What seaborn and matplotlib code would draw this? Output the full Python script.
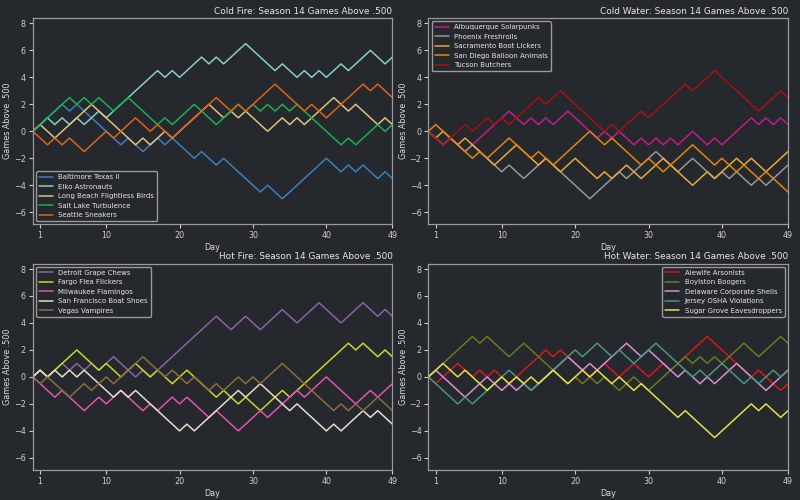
import numpy as np
import pandas as pd
import matplotlib.pyplot as plt
import seaborn as sns

#####################################
# games above .500 after each day (day 0 = season start)
days = list(range(50))

# Cold Fire
baltimore = [0,0.5,1,1.5,2,1.5,2,1.5,1,0.5, 0,-0.5,-1,-0.5,-1,-1.5,-1,-0.5,-1,-0.5,
             -1,-1.5,-2,-1.5,-2,-2.5,-2,-2.5,-3,-3.5, -4,-4.5,-4,-4.5,-5,-4.5,-4,-3.5,-3,-2.5,
             -2,-2.5,-3,-2.5,-3,-2.5,-3,-3.5,-3,-3.5]
elko = [0,0.5,1,0.5,1,0.5,1,0.5,1,1.5, 1,1.5,2,2.5,3,3.5,4,4.5,4,4.5,
        4,4.5,5,5.5,5,5.5,5,5.5,6,6.5, 6,5.5,5,4.5,5,4.5,4,4.5,4,4.5,
        4,4.5,5,4.5,5,5.5,6,5.5,5,5.5]
long_beach = [0,0.5,0,-0.5,0,0.5,1,1.5,2,1.5, 1,0.5,0,-0.5,-1,-0.5,-1,-0.5,0,-0.5,
              0,0.5,1,1.5,2,1.5,1,1.5,1,1.5, 1,0.5,0,0.5,1,0.5,1,0.5,1,1.5,
              2,2.5,2,1.5,2,1.5,1,0.5,1,0.5]
salt_lake = [0,0.5,1,1.5,2,2.5,2,2.5,2,2.5, 2,1.5,2,2.5,2,1.5,1,0.5,1,0.5,
             1,1.5,2,1.5,1,0.5,1,1.5,2,1.5, 2,1.5,2,1.5,2,1.5,2,1.5,1,0.5,
             0,-0.5,-1,-0.5,-1,-0.5,0,0.5,0,0.5]
seattle = [0,-0.5,-1,-0.5,-1,-0.5,-1,-1.5,-1,-0.5, 0,-0.5,0,0.5,1,0.5,0,0.5,0,-0.5,
           0,0.5,1,1.5,2,2.5,2,1.5,2,1.5, 2,2.5,3,3.5,3,2.5,2,1.5,2,1.5,
           1,1.5,2,2.5,3,3.5,3,3.5,3,2.5]

# Cold Water
albuquerque = [0,-0.5,-1,-0.5,-1,-1.5,-1,-0.5,0,0.5, 1,1.5,1,0.5,1,0.5,1,0.5,1,1.5,
               1,0.5,0,-0.5,0,-0.5,0,-0.5,-1,-0.5, -1,-0.5,-1,-0.5,-1,-0.5,0,-0.5,-1,-0.5,
               -1,-0.5,0,0.5,1,0.5,1,0.5,1,0.5]
phoenix = [0,-0.5,-1,-0.5,-1,-1.5,-1,-1.5,-2,-2.5, -3,-2.5,-3,-3.5,-3,-2.5,-2,-2.5,-3,-3.5,
           -4,-4.5,-5,-4.5,-4,-3.5,-3,-3.5,-3,-2.5, -2,-1.5,-2,-2.5,-3,-2.5,-2,-2.5,-3,-3.5,
           -3,-3.5,-3,-3.5,-4,-3.5,-4,-3.5,-3,-2.5]
sacramento = [0,-0.5,0,-0.5,-1,-0.5,-1,-1.5,-2,-2.5, -2,-1.5,-1,-1.5,-2,-2.5,-2,-2.5,-3,-2.5,
              -2,-2.5,-3,-3.5,-3,-3.5,-3,-2.5,-3,-3.5, -3,-2.5,-2,-2.5,-3,-3.5,-4,-3.5,-3,-3.5,
              -3,-2.5,-2,-2.5,-2,-2.5,-3,-2.5,-2,-1.5]
san_diego = [0,0.5,0,-0.5,-1,-1.5,-2,-1.5,-2,-1.5, -1,-0.5,-1,-1.5,-2,-1.5,-2,-2.5,-2,-1.5,
             -1,-0.5,0,-0.5,-1,-0.5,-1,-1.5,-2,-2.5, -2,-2.5,-3,-2.5,-2,-1.5,-1,-1.5,-2,-2.5,
             -2,-2.5,-3,-2.5,-3,-3.5,-3,-3.5,-4,-4.5]
tucson = [0,-0.5,-1,-0.5,0,0.5,0,0.5,1,0.5, 1,0.5,1,1.5,2,2.5,2,2.5,3,2.5,
          2,1.5,1,0.5,0,0.5,0,0.5,1,1.5, 1,1.5,2,2.5,3,3.5,3,3.5,4,4.5,
          4,3.5,3,2.5,2,1.5,2,2.5,3,2.5]

# Hot Fire
detroit = [0,0.5,0,0.5,1,0.5,1,0.5,1,0.5, 1,1.5,1,0.5,0,0.5,0,0.5,1,1.5,
           2,2.5,3,3.5,4,4.5,4,3.5,4,4.5, 4,3.5,4,4.5,5,4.5,4,4.5,5,5.5,
           5,4.5,4,4.5,5,5.5,5,4.5,5,4.5]
fargo = [0,0.5,0,0.5,1,1.5,2,1.5,1,0.5, 1,0.5,0,0.5,1,0.5,0,0.5,0,-0.5,
         0,0.5,0,-0.5,-1,-1.5,-1,-1.5,-2,-1.5, -2,-2.5,-2,-1.5,-1,-1.5,-1,-0.5,0,0.5,
         1,1.5,2,2.5,2,2.5,2,1.5,2,1.5]
milwaukee = [0,-0.5,-1,-1.5,-1,-1.5,-2,-2.5,-2,-1.5, -2,-1.5,-1,-1.5,-2,-2.5,-2,-2.5,-2,-1.5,
             -2,-1.5,-2,-2.5,-3,-2.5,-3,-3.5,-4,-3.5, -3,-2.5,-3,-2.5,-2,-1.5,-1,-1.5,-1,-0.5,
             0,-0.5,-1,-1.5,-2,-1.5,-1,-1.5,-1,-0.5]
san_francisco = [0,0.5,0,0.5,0,0.5,0,0.5,0,-0.5, -1,-1.5,-1,-1.5,-1,-1.5,-2,-2.5,-3,-3.5,
                 -4,-3.5,-4,-3.5,-3,-2.5,-2,-1.5,-1,-1.5, -1,-0.5,-1,-1.5,-2,-2.5,-2,-2.5,-3,-3.5,
                 -4,-3.5,-4,-3.5,-3,-2.5,-3,-2.5,-3,-3.5]
vegas = [0,-0.5,0,-0.5,-1,-1.5,-1,-0.5,-1,-0.5, 0,-0.5,0,0.5,1,1.5,1,0.5,0,0.5,
         0,-0.5,0,-0.5,-1,-0.5,-1,-0.5,0,-0.5, 0,-0.5,0,0.5,1,0.5,0,-0.5,-1,-1.5,
         -2,-2.5,-2,-2.5,-2,-2.5,-2,-1.5,-2,-2.5]

# Hot Water
alewife = [0,-0.5,0,0.5,1,0.5,0,0.5,0,0.5, 0,-0.5,0,0.5,1,1.5,2,1.5,2,1.5,
           1,0.5,0,0.5,1,0.5,0,0.5,1,0.5, 0,0.5,1,0.5,1,1.5,2,2.5,3,2.5,
           2,1.5,1,0.5,0,0.5,0,-0.5,-1,-0.5]
boylston = [0,0.5,1,1.5,2,2.5,3,2.5,3,2.5, 2,1.5,2,2.5,2,1.5,1,0.5,0,-0.5,
            0,-0.5,0,-0.5,0,-0.5,-1,-0.5,0,-0.5, -1,-0.5,0,0.5,1,1.5,1,1.5,1,1.5,
            1,1.5,2,2.5,2,1.5,2,2.5,3,2.5]
delaware = [0,0.5,0,-0.5,-1,-1.5,-1,-0.5,0,-0.5, -1,-0.5,-1,-0.5,-1,-0.5,0,0.5,1,1.5,
            1,0.5,1,0.5,1,1.5,2,2.5,2,1.5, 2,1.5,1,0.5,0,0.5,0,-0.5,0,-0.5,
            0,0.5,1,0.5,0,-0.5,-1,-0.5,0,0.5]
jersey = [0,-0.5,-1,-1.5,-2,-1.5,-2,-1.5,-1,-0.5, 0,0.5,0,-0.5,-1,-0.5,0,0.5,1,1.5,
          2,1.5,2,2.5,2,1.5,2,1.5,1,1.5, 2,2.5,2,1.5,1,0.5,0,0.5,0,0.5,
          1,0.5,0,-0.5,0,-0.5,0,0.5,0,0.5]
sugar_grove = [0,0.5,1,0.5,0,0.5,0,-0.5,-1,-0.5, 0,-0.5,0,-0.5,0,-0.5,0,0.5,0,-0.5,
               0,0.5,0,0.5,0,-0.5,0,-0.5,-1,-0.5, -1,-1.5,-2,-2.5,-3,-2.5,-3,-3.5,-4,-4.5,
               -4,-3.5,-3,-2.5,-2,-2.5,-2,-2.5,-3,-2.5]

#####################################
panels = [
    ("Cold Fire", "lower left",
     ["Baltimore Texas II", "Elko Astronauts", "Long Beach Flightless Birds",
      "Salt Lake Turbulence", "Seattle Sneakers"],
     [baltimore, elko, long_beach, salt_lake, seattle],
     ["#3a80be", "#88cfc4", "#dfc27d", "#1aaf50", "#dc6418"]),
    ("Cold Water", "upper left",
     ["Albuquerque Solarpunks", "Phoenix Freshrolls", "Sacramento Boot Lickers",
      "San Diego Balloon Animals", "Tucson Butchers"],
     [albuquerque, phoenix, sacramento, san_diego, tucson],
     ["#c51b8a", "#969696", "#e9a83a", "#e0860f", "#a50f15"]),
    ("Hot Fire", "upper left",
     ["Detroit Grape Chews", "Fargo Flea Flickers", "Milwaukee Flamingos",
      "San Francisco Boat Shoes", "Vegas Vampires"],
     [detroit, fargo, milwaukee, san_francisco, vegas],
     ["#8c62a8", "#c6d82a", "#e353b0", "#e6dccb", "#8c6d3c"]),
    ("Hot Water", "upper right",
     ["Alewife Arsonists", "Boylston Boogers", "Delaware Corporate Shells",
      "Jersey OSHA Violations", "Sugar Grove Eavesdroppers"],
     [alewife, boylston, delaware, jersey, sugar_grove],
     ["#d7191c", "#6b7a20", "#d88fd3", "#4a9484", "#e6df4a"]),
]

BG = "#25282c"
sns.set_theme(style="dark", rc={
    "figure.facecolor": BG, "axes.facecolor": BG, "axes.edgecolor": "#9a9a9a",
    "axes.labelcolor": "#dddddd", "text.color": "#e6e6e6",
    "xtick.color": "#cfcfcf", "ytick.color": "#cfcfcf",
    "xtick.bottom": True, "ytick.left": True, "axes.grid": False,
    "xtick.major.size": 3, "ytick.major.size": 3,
    "xtick.major.width": 0.8, "ytick.major.width": 0.8,
    "axes.linewidth": 0.9,
})
plt.rcParams['font.family'] = ['DejaVu Sans']

fig, axes = plt.subplots(2, 2, figsize=(8, 5), dpi=100)
fig.subplots_adjust(left=0.041, right=0.985, top=0.964, bottom=0.06, wspace=0.1, hspace=0.19)

for ax, (name, loc, teams, series, colors) in zip(axes.flat, panels):
    df = pd.DataFrame({
        "Day": days * len(teams),
        "Games": [v for s in series for v in s],
        "Team": [t for t in teams for _ in days],
    })
    sns.lineplot(data=df, x="Day", y="Games", hue="Team", hue_order=teams,
                 palette=dict(zip(teams, colors)), estimator=None,
                 linewidth=1.1, ax=ax)
    ax.set_xlim(0, 49)
    ax.set_ylim(-6.9, 8.4)
    ax.set_xticks([1, 10, 20, 30, 40, 49])
    ax.set_yticks([-6, -4, -2, 0, 2, 4, 6, 8])
    ax.tick_params(labelsize=5.8, pad=2)
    ax.set_xlabel("Day", fontsize=5.8, labelpad=2)
    ax.set_ylabel("Games Above .500", fontsize=5.8)
    ax.yaxis.set_label_coords(-0.058, 0.5)
    ax.set_title(name + ": Season 14 Games Above .500", loc="right", fontsize=6.4, pad=3)
    sns.move_legend(ax, loc, title=None, fontsize=5.0, frameon=True,
                    facecolor=BG, edgecolor="#9a9a9a", framealpha=1.0)

fig.savefig("out.png", dpi=100, facecolor=BG)
